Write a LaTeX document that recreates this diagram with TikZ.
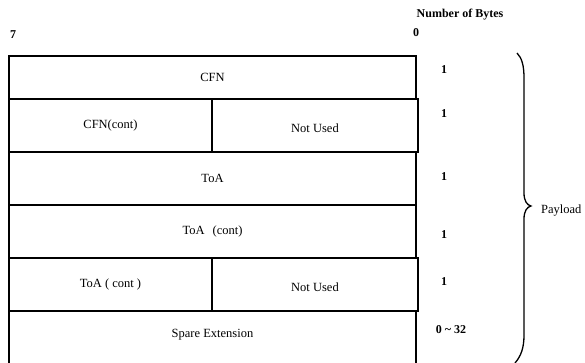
\documentclass[tikz,border=0pt]{standalone}
\usepackage{fontspec}
\setmainfont{Liberation Serif}
\begin{document}
\begin{tikzpicture}[x=1pt,y=-1pt,
  field/.style={draw,line width=1.2pt,rectangle,inner sep=0pt,font=\fontsize{12.5}{14}\selectfont},
  spare/.style={field,line width=1.6pt},
  lbl/.style={inner sep=0pt,font=\fontsize{12.5}{14}\selectfont},
  cnt/.style={inner sep=0pt,font=\bfseries\fontsize{12}{14}\selectfont}]
\clip (0,0) rectangle (585,363);
\fill[white] (0,0) rectangle (585,363);

% header labels
\node[cnt] (msb) at (13,35) {7};
\node[cnt] (lsb) at (416,33) {0};
\node[cnt] (nb) at (460,15) {Number of Bytes};

% payload fields
\node[field,minimum width=407pt,minimum height=43pt] (cfn) at (212.5,77.5) {CFN};
\node[field,minimum width=203pt,minimum height=53pt] (cfnc) at (110.5,125.5) {CFN(cont)};
\node[spare,minimum width=206pt,minimum height=53pt] (nu1) at (315,125.5) {};
\node[lbl] (nu1t) at (315,128) {Not Used};
\node[field,minimum width=407pt,minimum height=53pt] (toa) at (212.5,178.5) {ToA};
\node[field,minimum width=407pt,minimum height=53pt] (toac) at (212.5,231.5) {ToA\hspace{8pt}(cont)};
\node[field,minimum width=203pt,minimum height=53pt] (toac2) at (110.5,284.5) {ToA ( cont )};
\node[spare,minimum width=206pt,minimum height=53pt] (nu2) at (315,284.5) {};
\node[lbl] (nu2t) at (315,287) {Not Used};
\node[field,minimum width=407pt,minimum height=70pt] (ext) at (212.5,346) {};
\node[lbl] (extt) at (212.5,335) {Spare Extension};

% byte counts
\node[cnt] (n1) at (444,70) {1};
\node[cnt] (n2) at (444,114) {1};
\node[cnt] (n3) at (444,177) {1};
\node[cnt] (n4) at (444,235) {1};
\node[cnt] (n5) at (444,282) {1};
\node[cnt] (n6) at (451,330) {0 \textasciitilde{} 32};

% payload brace
\coordinate (btop) at (517,53);
\coordinate (btip) at (531,206);
\coordinate (bbot) at (515,363);
\draw[line width=1.3pt]
  (btop) .. controls (522,58) and (524,66) .. (524,78)
  -- (524,193) .. controls (524,201) and (527,205) .. (btip)
  .. controls (527,207) and (524,211) .. (524,219)
  -- (524,335) .. controls (524,348) and (521,356) .. (bbot);
\node[lbl,anchor=west] (pl) at (541,211) {Payload};
\end{tikzpicture}
\end{document}
